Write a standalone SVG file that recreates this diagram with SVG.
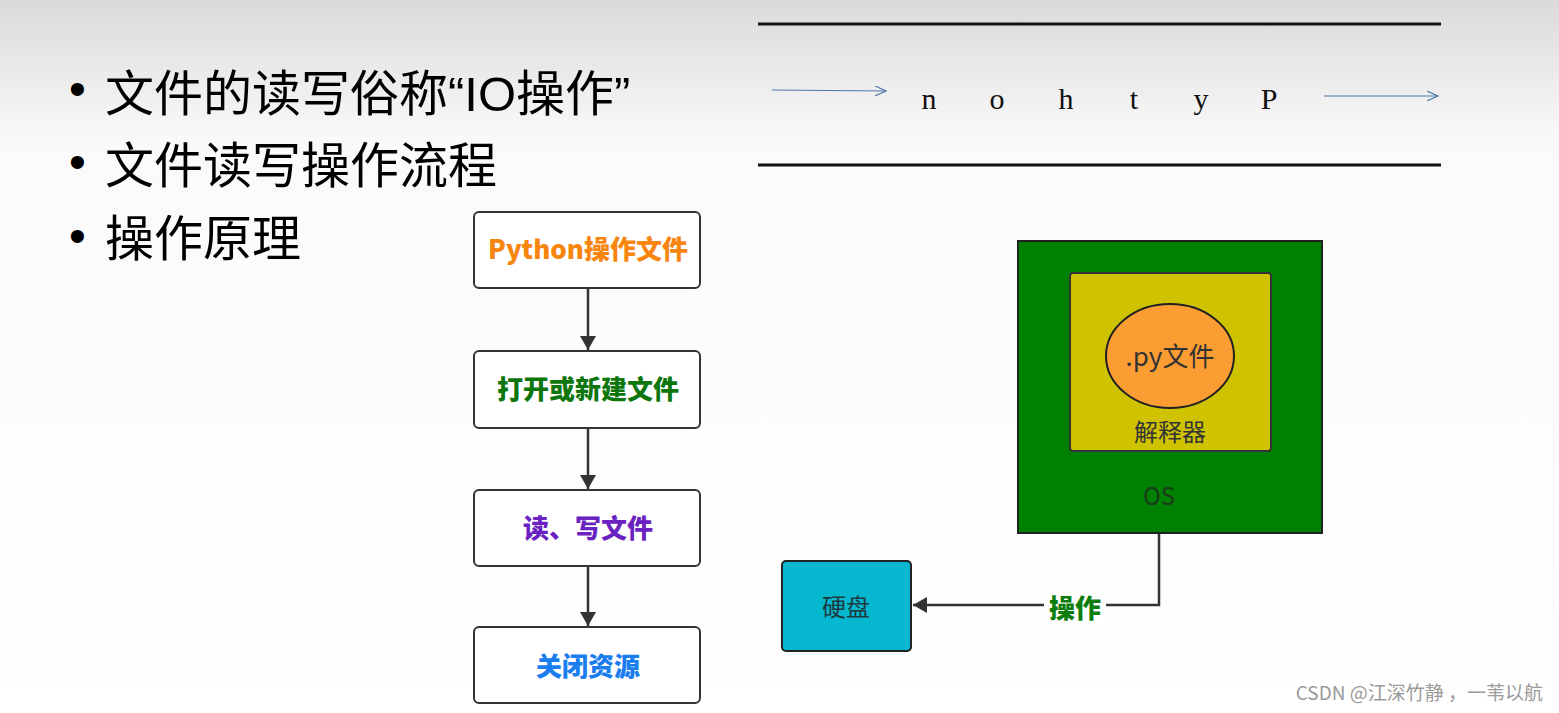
<svg xmlns="http://www.w3.org/2000/svg" width="1559" height="713" viewBox="0 0 1559 713">
<defs>
<linearGradient id="bg" x1="0" y1="0" x2="0" y2="1">
<stop offset="0" stop-color="#dadada"/>
<stop offset="0.2" stop-color="#fafafa"/>
<stop offset="1" stop-color="#ffffff"/>
</linearGradient>
<marker id="solid" viewBox="0 0 14 16" refX="14" refY="8" markerWidth="14" markerHeight="16" markerUnits="userSpaceOnUse" orient="auto">
<path d="M0,0 L14,8 L0,16 Z" fill="#333"/>
</marker>
<marker id="open" viewBox="0 0 12 10" refX="11" refY="5" markerWidth="12" markerHeight="10" markerUnits="userSpaceOnUse" orient="auto">
<path d="M0,0 L11,5 L0,10" fill="none" stroke="#4f77a8" stroke-width="1.2"/>
</marker>
<style>
.cjk{font-family:"Noto Sans CJK SC","Liberation Sans",sans-serif}
.bul{font-size:49px;fill:#000}
.dot{font-family:"Liberation Sans",sans-serif;font-size:48px;fill:#000}
.q{font-family:"Liberation Sans",sans-serif}
.flow{fill:#fff;stroke:#333;stroke-width:2}
.ft{font-size:26px;font-weight:900;text-anchor:middle}
.conn{stroke:#333;stroke-width:2.5;fill:none}
.let{font-family:"Liberation Serif",serif;font-size:30px;fill:#111;text-anchor:middle}
.rule{stroke:#111;stroke-width:3}
.thin{stroke:#4f77a8;stroke-width:1.2}
</style>
</defs>
<rect width="1559" height="713" fill="url(#bg)"/>

<g id="bullets">
<text class="dot" x="69" y="105">•</text>
<text class="cjk bul" x="105" y="111">文件的读写俗称<tspan class="q">“IO</tspan>操作<tspan class="q">”</tspan></text>
<text class="dot" x="69" y="178">•</text>
<text class="cjk bul" x="105" y="183">文件读写操作流程</text>
<text class="dot" x="69" y="252">•</text>
<text class="cjk bul" x="105" y="256">操作原理</text>
</g>

<g id="python-reversed">
<line class="rule" x1="758" y1="24" x2="1441" y2="24"/>
<line class="rule" x1="758" y1="165" x2="1441" y2="165"/>
<line class="thin" x1="772" y1="90" x2="886" y2="91" marker-end="url(#open)"/>
<line class="thin" x1="1324" y1="96" x2="1438" y2="96" marker-end="url(#open)"/>
<text class="let" x="929" y="109">n</text>
<text class="let" x="997" y="109">o</text>
<text class="let" x="1066" y="109">h</text>
<text class="let" x="1134" y="109">t</text>
<text class="let" x="1201" y="109">y</text>
<text class="let" x="1269" y="109">P</text>
</g>

<g id="connectors">
<line class="conn" x1="588" y1="289" x2="588" y2="350" marker-end="url(#solid)"/>
<line class="conn" x1="588" y1="429" x2="588" y2="489" marker-end="url(#solid)"/>
<line class="conn" x1="588" y1="567" x2="588" y2="626" marker-end="url(#solid)"/>
<polyline class="conn" points="1159,533 1159,605 913,605" marker-end="url(#solid)"/>
<rect x="1044" y="590" width="62" height="32" fill="#fff"/>
<text class="cjk ft" x="1075" y="618" fill="#0b7d0b">操作</text>
</g>

<g id="step1">
<rect class="flow" x="474" y="212" width="226" height="76" rx="5"/>
<text class="cjk ft" x="588" y="259" fill="#f7850e">Python操作文件</text>
</g>
<g id="step2">
<rect class="flow" x="474" y="351" width="226" height="77" rx="5"/>
<text class="cjk ft" x="588" y="399" fill="#0d760d">打开或新建文件</text>
</g>
<g id="step3">
<rect class="flow" x="474" y="490" width="226" height="76" rx="5"/>
<text class="cjk ft" x="588" y="538" fill="#6a22c0">读、写文件</text>
</g>
<g id="step4">
<rect class="flow" x="474" y="627" width="226" height="76" rx="5"/>
<text class="cjk ft" x="588" y="676" fill="#1a7df0">关闭资源</text>
</g>

<g id="os">
<rect x="1018" y="241" width="304" height="292" fill="#008000" stroke="#222" stroke-width="2"/>
<text class="cjk" x="1159" y="505" font-size="24" fill="#1b3a1b" text-anchor="middle">OS</text>
</g>
<g id="interpreter">
<rect x="1070" y="273" width="201" height="178" rx="3" fill="#cfc300" stroke="#333" stroke-width="2"/>
<text class="cjk" x="1170" y="441" font-size="24" fill="#333" text-anchor="middle">解释器</text>
</g>
<g id="pyfile">
<ellipse cx="1170" cy="356" rx="64" ry="52" fill="#fb9d32" stroke="#222" stroke-width="2"/>
<text class="cjk" x="1170" y="366" font-size="26" fill="#333" text-anchor="middle">.py文件</text>
</g>
<g id="disk">
<rect x="782" y="561" width="129" height="90" rx="4" fill="#05b7cf" stroke="#222" stroke-width="2"/>
<text class="cjk" x="846" y="616" font-size="24" fill="#1e3a40" text-anchor="middle">硬盘</text>
</g>

<text class="cjk" x="1543" y="700" font-size="19" fill="#9a9a9a" text-anchor="end">CSDN @江深竹静 ，一苇以航</text>
</svg>
